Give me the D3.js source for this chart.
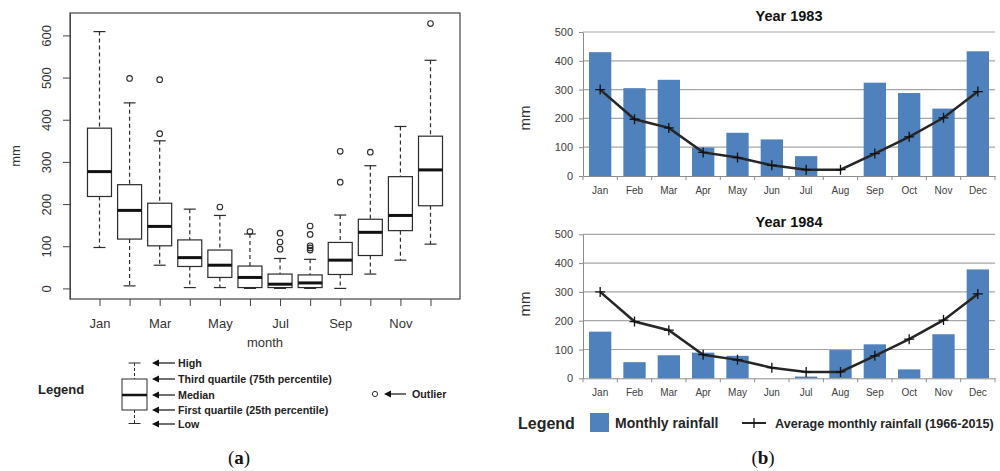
<!DOCTYPE html>
<html>

<head>
    <meta charset="utf-8">
    <script src="https://d3js.org/d3.v7.min.js"></script>
    <style>
        body {
            margin: 0;
            background: #fff;
        }

        svg text {
            font-family: "Liberation Sans", Arial, sans-serif;
        }
    </style>
</head>

<body>
    <div id="chart"></div>

    <script>
        // ---- data ----
        var months = ["Jan", "Feb", "Mar", "Apr", "May", "Jun", "Jul", "Aug", "Sep", "Oct", "Nov", "Dec"];

        // (a) boxplot statistics, mm
        var boxLow = [97, 6, 55, 2, 2, 0, 0, 0, 0, 34, 67, 105];
        var boxQ1 = [218, 117, 101, 52, 26, 2, 2, 2, 33, 78, 137, 196];
        var boxMedian = [277, 185, 147, 73, 55, 26, 10, 13, 67, 133, 173, 281];
        var boxQ3 = [380, 246, 202, 115, 91, 53, 34, 32, 109, 164, 265, 361];
        var boxHigh = [609, 440, 350, 188, 173, 129, 71, 69, 174, 291, 384, 541];
        var boxOutliers = [[], [498], [495, 367], [], [193], [135], [131, 110, 93],
            [148, 128, 101, 96, 91], [325, 252], [323], [], [628]];
        var boxTicks = [0, 100, 200, 300, 400, 500, 600];

        // (b) monthly rainfall, mm
        var rain1983 = [430, 305, 334, 99, 150, 127, 69, 0, 324, 288, 234, 433];
        var rain1984 = [162, 56, 80, 89, 78, 0, 6, 98, 118, 31, 153, 378];
        var avgRain = [300, 197, 167, 82, 64, 37, 22, 22, 78, 136, 202, 293];
        var barTicks = [0, 100, 200, 300, 400, 500];

        var svg = d3.select("#chart")
            .append("svg")
            .attr("width", 1000)
            .attr("height", 471);

        // =================== (a) boxplot ===================
        var ink = "#2b2b2b";
        var allVals = boxLow.concat(boxHigh, [].concat.apply([], boxOutliers));
        var lo = d3.min(allVals), hi = d3.max(allVals);
        var pad = (hi - lo) * 0.04;

        var plotA = { left: 70, right: 460, top: 13, bottom: 299 };

        var xA = d3.scaleLinear()
            .domain([0.5 - 0.48, 12.5 + 0.48])
            .range([plotA.left, plotA.right]);
        var yA = d3.scaleLinear()
            .domain([lo - pad, hi + pad])
            .range([plotA.bottom, plotA.top]);

        var gA = svg.append("g");

        // frame
        gA.append("rect")
            .attr("x", plotA.left).attr("y", plotA.top)
            .attr("width", plotA.right - plotA.left)
            .attr("height", plotA.bottom - plotA.top)
            .attr("fill", "none").attr("stroke", "#444").attr("stroke-width", 1.2);

        // y axis
        var yAxisA = gA.append("g")
            .attr("transform", "translate(" + plotA.left + ",0)")
            .call(d3.axisLeft(yA).tickValues(boxTicks).tickSize(7).tickSizeOuter(0));
        yAxisA.select(".domain").attr("stroke", "#444");
        yAxisA.selectAll(".tick line").attr("stroke", "#444");
        yAxisA.selectAll(".tick text")
            .attr("transform", "rotate(-90)")
            .attr("x", 0).attr("y", -19)
            .attr("dy", 0)
            .style("text-anchor", "middle")
            .attr("font-size", 13).attr("fill", "#333");

        // x axis
        var xAxisA = gA.append("g")
            .attr("transform", "translate(0," + plotA.bottom + ")")
            .call(d3.axisBottom(xA)
                .tickValues(d3.range(1, 13))
                .tickSize(7).tickSizeOuter(0)
                .tickFormat(function (d) { return d % 2 === 1 ? months[d - 1] : ""; }));
        xAxisA.select(".domain").remove();
        xAxisA.selectAll(".tick line").attr("stroke", "#444");
        xAxisA.selectAll(".tick text").attr("y", 20).attr("font-size", 13).attr("fill", "#333");

        gA.append("text")
            .attr("x", (plotA.left + plotA.right) / 2).attr("y", 347)
            .attr("text-anchor", "middle").attr("font-size", 13).attr("fill", "#333")
            .text("month");
        gA.append("text")
            .attr("transform", "translate(20,156) rotate(-90)")
            .attr("text-anchor", "middle").attr("font-size", 13).attr("fill", "#333")
            .text("mm");

        var boxW = 24;
        var boxes = gA.selectAll(".box")
            .data(months.map(function (m, i) { return i; }))
            .enter().append("g").attr("class", "box");

        boxes.append("line")  // upper whisker
            .attr("x1", function (i) { return xA(i + 1); }).attr("x2", function (i) { return xA(i + 1); })
            .attr("y1", function (i) { return yA(boxHigh[i]); }).attr("y2", function (i) { return yA(boxQ3[i]); })
            .attr("stroke", ink).attr("stroke-width", 1.2).attr("stroke-dasharray", "4,3");
        boxes.append("line")  // lower whisker
            .attr("x1", function (i) { return xA(i + 1); }).attr("x2", function (i) { return xA(i + 1); })
            .attr("y1", function (i) { return yA(boxQ1[i]); }).attr("y2", function (i) { return yA(boxLow[i]); })
            .attr("stroke", ink).attr("stroke-width", 1.2).attr("stroke-dasharray", "4,3");
        [boxHigh, boxLow].forEach(function (arr) {
            boxes.append("line")
                .attr("x1", function (i) { return xA(i + 1) - boxW / 4; })
                .attr("x2", function (i) { return xA(i + 1) + boxW / 4; })
                .attr("y1", function (i) { return yA(arr[i]); }).attr("y2", function (i) { return yA(arr[i]); })
                .attr("stroke", ink).attr("stroke-width", 1.2);
        });
        boxes.append("rect")
            .attr("x", function (i) { return xA(i + 1) - boxW / 2; })
            .attr("width", boxW)
            .attr("y", function (i) { return yA(boxQ3[i]); })
            .attr("height", function (i) { return yA(boxQ1[i]) - yA(boxQ3[i]); })
            .attr("fill", "#fff").attr("stroke", ink).attr("stroke-width", 1.2);
        boxes.append("line")
            .attr("x1", function (i) { return xA(i + 1) - boxW / 2; })
            .attr("x2", function (i) { return xA(i + 1) + boxW / 2; })
            .attr("y1", function (i) { return yA(boxMedian[i]); }).attr("y2", function (i) { return yA(boxMedian[i]); })
            .attr("stroke", "#111").attr("stroke-width", 3);
        boxes.selectAll("circle")
            .data(function (i) { return boxOutliers[i].map(function (v) { return { i: i, v: v }; }); })
            .enter().append("circle")
            .attr("cx", function (d) { return xA(d.i + 1); })
            .attr("cy", function (d) { return yA(d.v); })
            .attr("r", 2.8)
            .attr("fill", "none").attr("stroke", ink).attr("stroke-width", 1.1);

        // legend (a)
        var legA = svg.append("g");
        legA.append("text").attr("x", 38).attr("y", 394)
            .attr("font-size", 13).attr("font-weight", "bold").attr("fill", "#222").text("Legend");

        var lx = 134.5;
        legA.append("line").attr("x1", lx).attr("x2", lx).attr("y1", 363).attr("y2", 379)
            .attr("stroke", ink).attr("stroke-dasharray", "3,2");
        legA.append("line").attr("x1", lx).attr("x2", lx).attr("y1", 410).attr("y2", 424)
            .attr("stroke", ink).attr("stroke-dasharray", "3,2");
        legA.append("line").attr("x1", lx - 6).attr("x2", lx + 6).attr("y1", 363).attr("y2", 363).attr("stroke", ink);
        legA.append("line").attr("x1", lx - 6).attr("x2", lx + 6).attr("y1", 423.5).attr("y2", 423.5).attr("stroke", ink);
        legA.append("rect").attr("x", 122).attr("y", 379).attr("width", 25).attr("height", 31)
            .attr("fill", "#fff").attr("stroke", ink);
        legA.append("line").attr("x1", 122).attr("x2", 147).attr("y1", 395).attr("y2", 395)
            .attr("stroke", "#111").attr("stroke-width", 2.5);

        function arrow(g, x0, x1, y) {
            g.append("line").attr("x1", x0 + 5).attr("x2", x1).attr("y1", y).attr("y2", y)
                .attr("stroke", "#111").attr("stroke-width", 1.2);
            g.append("path")
                .attr("d", "M" + x0 + "," + y + "L" + (x0 + 7) + "," + (y - 3.5) + "L" + (x0 + 7) + "," + (y + 3.5) + "Z")
                .attr("fill", "#111");
        }
        var legItems = [
            { y: 363, t: "High" },
            { y: 379, t: "Third quartile (75th percentile)" },
            { y: 395, t: "Median" },
            { y: 410, t: "First quartile (25th percentile)" },
            { y: 424, t: "Low" }
        ];
        legItems.forEach(function (d) {
            arrow(legA, 152, 175, d.y);
            legA.append("text").attr("x", 178).attr("y", d.y + 4)
                .attr("font-size", 10.7).attr("font-weight", "bold").attr("fill", "#222").text(d.t);
        });
        legA.append("circle").attr("cx", 375).attr("cy", 394).attr("r", 2.6)
            .attr("fill", "none").attr("stroke", ink);
        arrow(legA, 384, 406, 394);
        legA.append("text").attr("x", 412).attr("y", 398)
            .attr("font-size", 10.7).attr("font-weight", "bold").attr("fill", "#222").text("Outlier");

        // =================== (b) bar charts ===================
        var blue = "#4f81bd";
        var xB = d3.scaleBand().domain(months).range([583, 995]).paddingInner(0.35).paddingOuter(0.175);
        var half = (xB.step() - xB.bandwidth()) / 2;

        function barChart(title, values, top, bottom, titleY, mmY) {
            var y = d3.scaleLinear().domain([0, 500]).range([bottom, top]);
            var g = svg.append("g");

            // gridlines
            g.selectAll(".grid").data(barTicks.slice(1)).enter().append("line")
                .attr("x1", 583).attr("x2", 995)
                .attr("y1", function (d) { return y(d); }).attr("y2", function (d) { return y(d); })
                .attr("stroke", "#a6a6a6").attr("stroke-width", 1.2);

            g.selectAll(".bar").data(values).enter().append("rect")
                .attr("x", function (d, i) { return xB(months[i]); })
                .attr("width", xB.bandwidth())
                .attr("y", function (d) { return y(d); })
                .attr("height", function (d) { return bottom - y(d); })
                .attr("fill", blue);

            // y axis
            var ya = g.append("g").attr("transform", "translate(583,0)")
                .call(d3.axisLeft(y).tickValues(barTicks).tickSize(4).tickSizeOuter(0).tickPadding(6));
            ya.select(".domain").attr("stroke", "#8c8c8c");
            ya.selectAll(".tick line").attr("stroke", "#8c8c8c");
            ya.selectAll(".tick text").attr("font-size", 11).attr("fill", "#404040");

            // x axis
            var xa = g.append("g").attr("transform", "translate(0," + bottom + ")")
                .call(d3.axisBottom(xB).tickSize(0).tickSizeOuter(0).tickPadding(11));
            xa.select(".domain").attr("stroke", "#8c8c8c");
            xa.selectAll(".tick text").attr("font-size", 10).attr("fill", "#404040");
            xa.selectAll(".sep").data(months).enter().append("line")
                .attr("x1", function (d) { return xB(d) - half; }).attr("x2", function (d) { return xB(d) - half; })
                .attr("y1", 0).attr("y2", 4).attr("stroke", "#8c8c8c");
            xa.append("line").attr("x1", 995).attr("x2", 995).attr("y1", 0).attr("y2", 4).attr("stroke", "#8c8c8c");

            // average line
            var line = d3.line()
                .x(function (d, i) { return xB(months[i]) + xB.bandwidth() / 2; })
                .y(function (d) { return y(d); });
            g.append("path").datum(avgRain).attr("d", line)
                .attr("fill", "none").attr("stroke", "#262626").attr("stroke-width", 2.5);
            g.selectAll(".mark").data(avgRain).enter().append("path")
                .attr("transform", function (d, i) {
                    return "translate(" + (xB(months[i]) + xB.bandwidth() / 2) + "," + y(d) + ")";
                })
                .attr("d", "M-5,0L5,0M0,-5L0,5")
                .attr("stroke", "#111").attr("stroke-width", 1.3);

            g.append("text").attr("x", 789).attr("y", titleY)
                .attr("text-anchor", "middle").attr("font-size", 14.5).attr("font-weight", "bold")
                .attr("fill", "#111").text(title);
            g.append("text").attr("transform", "translate(530," + mmY + ") rotate(-90)")
                .attr("text-anchor", "middle").attr("font-size", 15).attr("fill", "#333").text("mm");
        }

        barChart("Year 1983", rain1983, 32, 176, 21, 118);
        barChart("Year 1984", rain1984, 234.3, 378.3, 227, 304);

        // legend (b)
        var legB = svg.append("g");
        legB.append("text").attr("x", 518).attr("y", 429)
            .attr("font-size", 16).attr("font-weight", "bold").attr("fill", "#262626").text("Legend");
        legB.append("rect").attr("x", 590).attr("y", 413).attr("width", 19).attr("height", 19).attr("fill", blue);
        legB.append("text").attr("x", 615).attr("y", 428)
            .attr("font-size", 14).attr("font-weight", "bold").attr("fill", "#262626").text("Monthly rainfall");
        legB.append("line").attr("x1", 742).attr("x2", 766).attr("y1", 423).attr("y2", 423)
            .attr("stroke", "#262626").attr("stroke-width", 2);
        legB.append("path").attr("d", "M754,418L754,428").attr("stroke", "#111").attr("stroke-width", 1.3);
        legB.append("text").attr("x", 775).attr("y", 428)
            .attr("font-size", 12.6).attr("font-weight", "bold").attr("fill", "#262626")
            .text("Average monthly rainfall (1966-2015)");

        // panel labels
        function panelLabel(x, letter) {
            var t = svg.append("text").attr("x", x).attr("y", 464)
                .attr("text-anchor", "middle").attr("font-size", 19)
                .style("font-family", "'Liberation Serif', 'DejaVu Serif', serif").attr("fill", "#111");
            t.append("tspan").text("(");
            t.append("tspan").attr("font-weight", "bold").text(letter);
            t.append("tspan").text(")");
        }
        panelLabel(239, "a");
        panelLabel(763, "b");
    </script>
</body>

</html>
